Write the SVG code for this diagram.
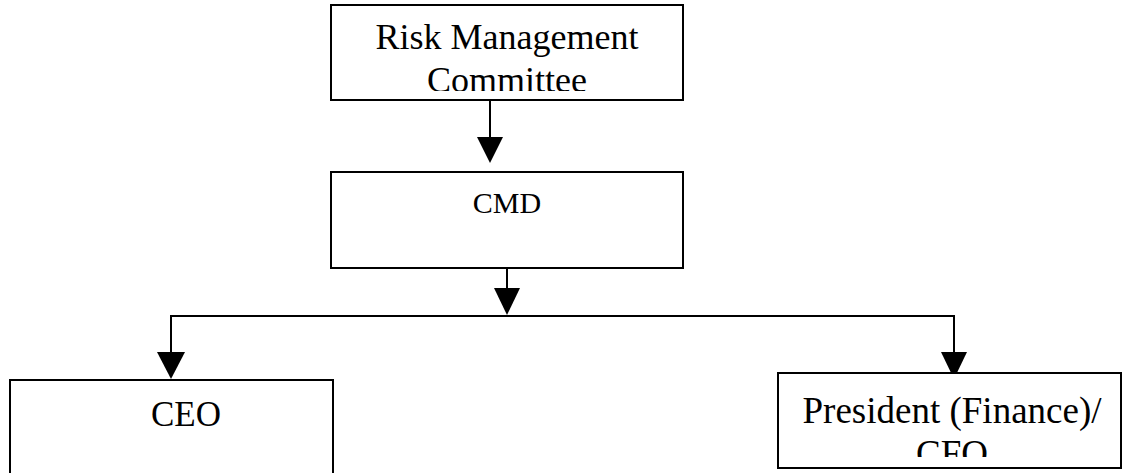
<svg xmlns="http://www.w3.org/2000/svg" width="1123" height="473" viewBox="0 0 1123 473">
<style>
.box{fill:#fff;stroke:#000;stroke-width:2}
.t{font-family:"Liberation Serif","Times New Roman",serif;fill:#000;text-anchor:middle}
.ln{stroke:#000;stroke-width:2;fill:none}
.ah{fill:#000}
</style>
<defs>
<clipPath id="c1"><rect x="0" y="0" width="1123" height="91"/></clipPath>
<clipPath id="c2"><rect x="0" y="0" width="1123" height="457"/></clipPath>
</defs>
<rect width="1123" height="473" fill="#fff"/>
<g id="connectors">
<line class="ln" x1="490" y1="100" x2="490" y2="140"/>
<polygon class="ah" points="477,137 503,137 490,163"/>
<line class="ln" x1="507" y1="268" x2="507" y2="290"/>
<polygon class="ah" points="494,288 520,288 507,315"/>
<polyline class="ln" points="171,355 171,316 954,316 954,355"/>
<polygon class="ah" points="157,352 185,352 171,379"/>
<polygon class="ah" points="941,352 967,352 954,379"/>
</g>
<g id="risk">
<rect class="box" x="331" y="5" width="352" height="95"/>
<g clip-path="url(#c1)">
<text class="t" x="507" y="49" font-size="36">Risk Management</text>
<text class="t" x="507" y="92" font-size="36">Committee</text>
</g>
</g>
<g id="cmd">
<rect class="box" x="331" y="172" width="352" height="96"/>
<text class="t" x="507" y="213" font-size="30">CMD</text>
</g>
<g id="ceo">
<rect class="box" x="10" y="380" width="323" height="110"/>
<text class="t" x="186" y="426" font-size="35">CEO</text>
</g>
<g id="president">
<rect class="box" x="778" y="373" width="343" height="95"/>
<g clip-path="url(#c2)">
<text class="t" x="952" y="423" font-size="37">President (Finance)/</text>
<text class="t" x="952" y="466" font-size="37">CFO</text>
</g>
</g>
</svg>
